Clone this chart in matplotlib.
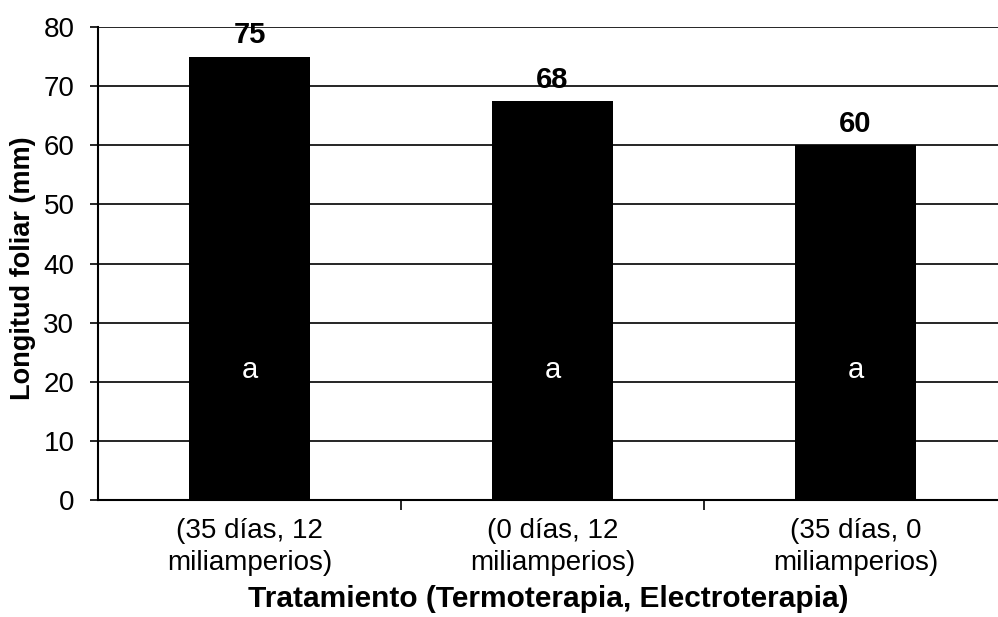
import matplotlib
matplotlib.use("Agg")
import matplotlib.pyplot as plt
from matplotlib.ticker import FixedLocator

categories = ["(35 días, 12\nmiliamperios)", "(0 días, 12\nmiliamperios)", "(35 días, 0\nmiliamperios)"]
values = [75, 67.5, 60]
value_labels = ["75", "68", "60"]
letters = ["a", "a", "a"]
y_ticks = [0, 10, 20, 30, 40, 50, 60, 70, 80]

plt.rcParams['font.family'] = ['Liberation Sans', 'DejaVu Sans']

fig = plt.figure(figsize=(9.98, 6.17), dpi=100)
ax = fig.add_axes([98/998, (617-500)/617, (1007-98)/998, (500-27)/617])

x = list(range(len(categories)))
ax.bar(x, values, width=0.4, color='black', zorder=3)
ax.set_xlim(-0.5, 2.5)
ax.set_ylim(0, 80)
ax.set_yticks(y_ticks)
ax.yaxis.grid(True, color='black', linewidth=1.2, zorder=0)
ax.set_axisbelow(True)

for s in ['top', 'right']:
    ax.spines[s].set_visible(False)
ax.spines['left'].set_linewidth(1.5)
ax.spines['bottom'].set_linewidth(1.5)

ax.set_xticks(x)
ax.set_xticklabels(categories, fontsize=20, linespacing=1.28)
ax.tick_params(axis='x', which='major', length=0, pad=13)
ax.xaxis.set_minor_locator(FixedLocator([0.5, 1.5]))
ax.tick_params(axis='x', which='minor', length=7, width=1.2, direction='out')
ax.tick_params(axis='y', labelsize=20, length=6, width=1.2, direction='out', pad=11)

for xi, v, lab, let in zip(x, values, value_labels, letters):
    ax.text(xi, v + 3.6, lab, ha='center', va='center', fontsize=21, fontweight='bold')
    ax.text(xi, 22, let, ha='center', va='center', fontsize=21, color='white')

ax.set_ylabel("Longitud foliar (mm)", fontsize=19.5, fontweight='bold')
ax.set_xlabel("Tratamiento (Termoterapia, Electroterapia)", fontsize=21.5, fontweight='bold')
ax.xaxis.set_label_coords((548 - 98) / (1007 - 98), (500 - 585) / (500 - 27))
ax.yaxis.set_label_coords((36 - 98) / (1007 - 98), (500 - 268) / (500 - 27))

fig.savefig("out.png", dpi=100)
